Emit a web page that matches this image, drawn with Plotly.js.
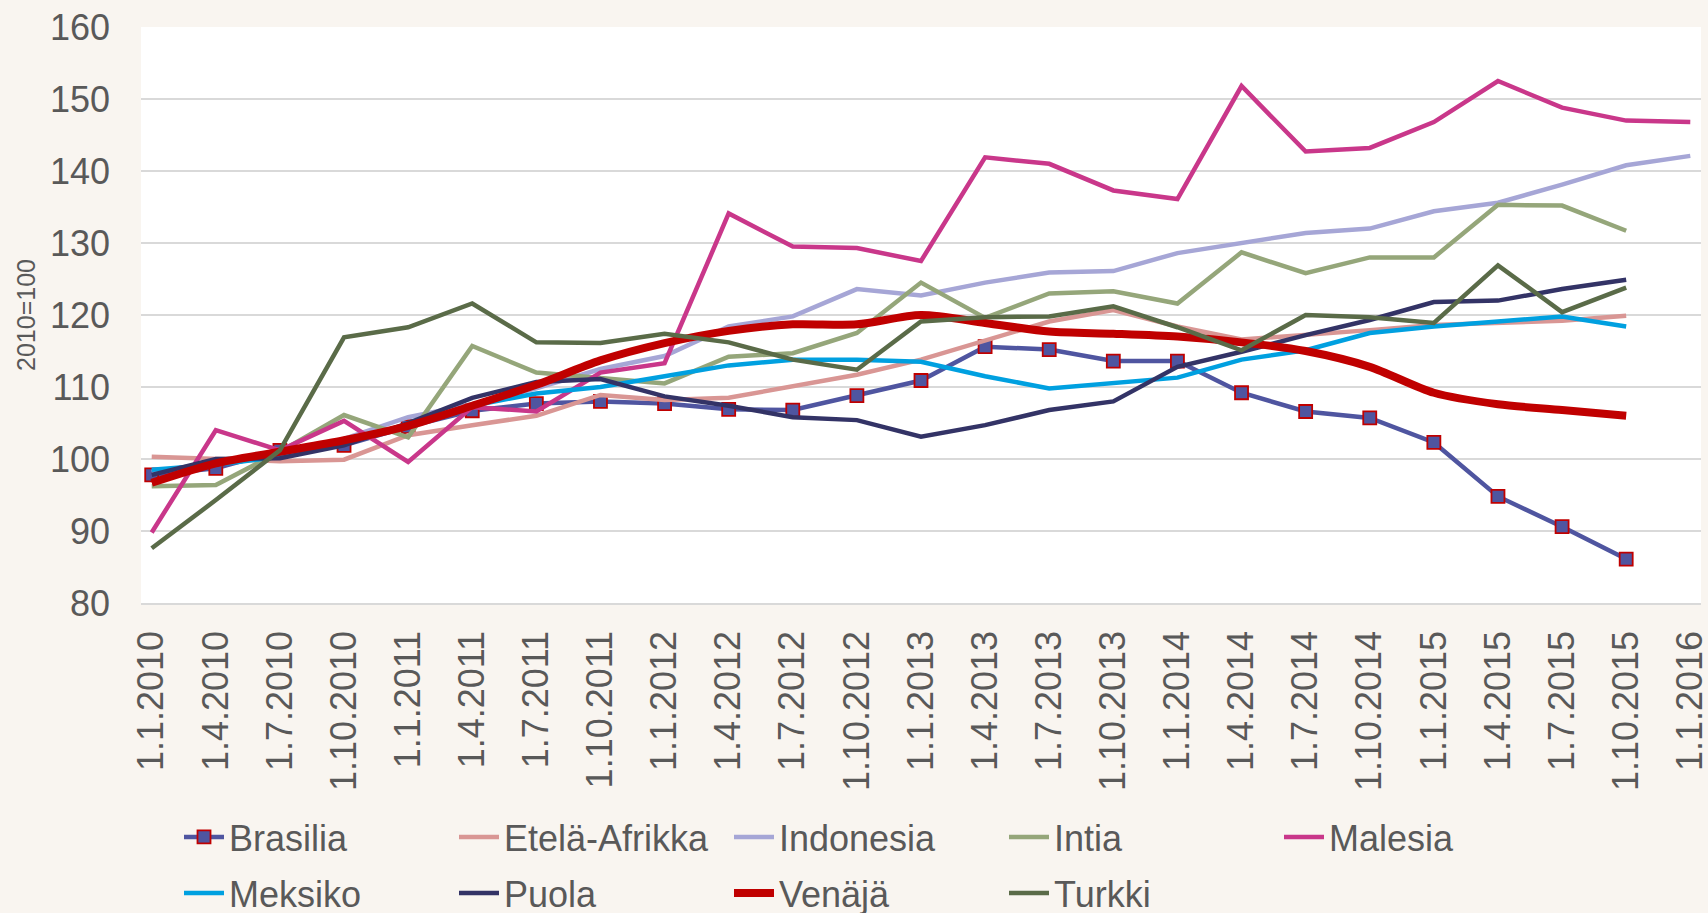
<!DOCTYPE html>
<html>
<head>
<meta charset="utf-8">
<script src="https://cdn.plot.ly/plotly-3.0.1.min.js"></script>
<style>
html,body{margin:0;padding:0;background:#F9F5F0;}
#chart{width:1708px;height:913px;}
</style>
</head>
<body>
<div id="chart"></div>
<script>
const categories = ["1.1.2010","1.4.2010","1.7.2010","1.10.2010","1.1.2011","1.4.2011","1.7.2011","1.10.2011","1.1.2012","1.4.2012","1.7.2012","1.10.2012","1.1.2013","1.4.2013","1.7.2013","1.10.2013","1.1.2014","1.4.2014","1.7.2014","1.10.2014","1.1.2015","1.4.2015","1.7.2015","1.10.2015","1.1.2016"];

const brasilia = [97.8, 98.7, 101.2, 101.9, 104.5, 106.7, 107.7, 108.0, 107.7, 106.9, 106.8, 108.8, 110.9, 115.6, 115.2, 113.6, 113.6, 109.2, 106.6, 105.7, 102.3, 94.8, 90.6, 86.1, null];
const etelaAfrikka = [100.3, 100.0, 99.7, 99.9, 103.3, 104.7, 106.0, 108.9, 108.2, 108.5, 110.1, 111.7, 113.8, 116.5, 119.1, 120.7, 118.4, 116.6, 117.2, 117.9, 118.6, 118.9, 119.2, 119.9, null];
const indonesia = [98.2, 99.5, 100.5, 102.8, 105.8, 107.6, 109.8, 112.5, 114.3, 118.4, 119.8, 123.6, 122.7, 124.5, 125.9, 126.1, 128.6, 130.0, 131.4, 132.0, 134.4, 135.6, 138.1, 140.8, 142.1];
const intia = [96.2, 96.4, 101.0, 106.1, 103.0, 115.7, 112.0, 111.2, 110.5, 114.2, 114.7, 117.5, 124.5, 119.6, 123.0, 123.3, 121.6, 128.7, 125.8, 128.0, 128.0, 135.3, 135.2, 131.7, null];
const malesia = [89.8, 104.0, 101.2, 105.3, 99.6, 107.2, 106.6, 112.0, 113.3, 134.1, 129.5, 129.3, 127.5, 141.9, 141.0, 137.3, 136.1, 151.8, 142.7, 143.2, 146.8, 152.5, 148.8, 147.0, 146.8];
const meksiko = [98.5, 99.2, 100.3, 102.3, 104.7, 107.4, 109.1, 110.0, 111.5, 113.0, 113.8, 113.8, 113.5, 111.5, 109.8, 110.6, 111.3, 113.8, 115.1, 117.5, 118.4, 119.1, 119.8, 118.4, null];
const puola = [97.8, 100.0, 100.1, 101.9, 105.0, 108.5, 110.7, 111.1, 108.7, 107.4, 105.8, 105.4, 103.1, 104.7, 106.8, 108.0, 112.8, 114.9, 117.2, 119.3, 121.8, 122.0, 123.6, 124.9, null];
const venaja = [96.7, 99.4, 101.0, 102.6, 104.6, 107.4, 110.3, 113.7, 116.1, 117.8, 118.7, 118.7, 120.0, 118.9, 117.7, 117.4, 117.0, 116.2, 115.0, 112.8, 109.2, 107.6, 106.8, 106.0, null];
const turkki = [87.6, 94.3, 101.2, 116.9, 118.3, 121.6, 116.2, 116.1, 117.4, 116.2, 113.8, 112.4, 119.1, 119.7, 119.8, 121.2, 118.3, 115.1, 120.0, 119.7, 118.9, 126.9, 120.4, 123.8, null];

const yTicks = [80, 90, 100, 110, 120, 130, 140, 150, 160];

const FONT = "Liberation Sans, Arial, sans-serif";
const TXT = "#595959";
const LW = 4.5;

function line(name, y, color, width, legend, extra) {
  return Object.assign({
    type: "scatter", mode: "lines", name: name, x: categories, y: y,
    line: {color: color, width: width}, legend: legend,
    hoverinfo: "x+y+name"
  }, extra || {});
}

const traces = [
  line("Brasilia", brasilia, "#4F55A0", LW, "legend", {mode: "lines+markers",
    marker: {symbol: "square", size: 13, color: "#4F55A0", line: {color: "#C00000", width: 1.8}}}),
  line("Etelä-Afrikka", etelaAfrikka, "#D99694", LW, "legend"),
  line("Indonesia", indonesia, "#A6A6D6", LW, "legend"),
  line("Intia", intia, "#95A67A", LW, "legend"),
  line("Malesia", malesia, "#C9378A", LW, "legend"),
  line("Meksiko", meksiko, "#00A0E0", LW, "legend2"),
  line("Puola", puola, "#333366", LW, "legend2"),
  line("Venäjä", venaja, "#C00000", 8, "legend2", {line: {color: "#C00000", width: 8, shape: "spline", smoothing: 0.8}}),
  line("Turkki", turkki, "#5A6B48", LW, "legend2")
];

const pad = 0.167;
const legendCommon = {
  orientation: "h", xref: "container", yref: "container",
  x: 179 / 1708, xanchor: "left", yanchor: "middle",
  entrywidth: 220, entrywidthmode: "pixels", bgcolor: "rgba(0,0,0,0)",
  font: {family: FONT, size: 36, color: TXT}, itemwidth: 40
};
const layout = {
  width: 1708, height: 913,
  paper_bgcolor: "#F9F5F0", plot_bgcolor: "#FFFFFF",
  margin: {l: 141, r: 7, t: 27, b: 310},
  font: {family: FONT, color: TXT, size: 36},
  showlegend: true,
  xaxis: {
    type: "category", range: [-pad, categories.length - 1 + pad],
    tickmode: "array", tickvals: categories, ticktext: categories,
    tickangle: -90, ticks: "", showgrid: false,
    showline: true, linecolor: "#D9D9D9", linewidth: 1.5,
    tickfont: {family: FONT, size: 36, color: TXT},
    ticklabelstandoff: 12, zeroline: false
  },
  xaxis2: {
    overlaying: "x", anchor: "y", type: "linear",
    range: [-pad, categories.length - 1 + pad],
    tickmode: "array", tickvals: categories.map((c, i) => i - pad),
    showticklabels: false, ticks: "outside", ticklen: 11, tickwidth: 1.5, tickcolor: "#D9D9D9",
    showgrid: false, zeroline: false, showline: false
  },
  yaxis: {
    range: [80, 160], tickmode: "array", tickvals: yTicks,
    showgrid: true, gridcolor: "#D9D9D9", gridwidth: 1.3,
    zeroline: false, showline: false, ticks: "",
    tickfont: {family: FONT, size: 36, color: TXT},
    ticklabelstandoff: 30,
    title: {text: "2010=100", font: {family: FONT, size: 25, color: TXT}, standoff: 7}
  },
  legend: Object.assign({}, legendCommon, {y: 1 - 837 / 913}),
  legend2: Object.assign({}, legendCommon, {y: 1 - 893 / 913})
};

Plotly.newPlot("chart", traces, layout, {displayModeBar: false, staticPlot: true});
</script>
</body>
</html>
